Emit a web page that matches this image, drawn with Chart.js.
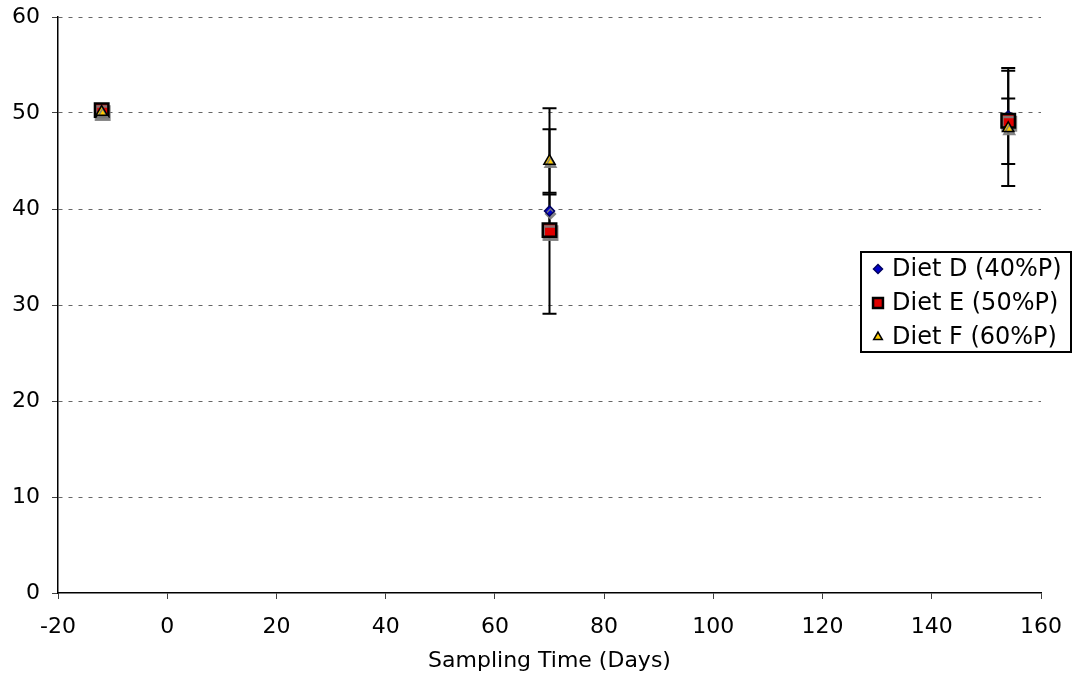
<!DOCTYPE html>
<html lang="en">
<head>
<meta charset="UTF-8">
<title>Sampling Time (Days)</title>
<script src="https://cdn.jsdelivr.net/npm/chart.js"></script>
<style>
  html, body { margin: 0; padding: 0; background: #fff; }
  #wrap { position: relative; width: 1073px; height: 677px; }
</style>
</head>
<body>
<div id="wrap"><canvas id="chart"></canvas></div>
<script>
// sampling days and mean values per diet
const days = [-12, 70, 154];
const dietD = [50.4, 39.8, 49.7];
const dietE = [50.3, 37.8, 49.2];
const dietF = [50.1, 45.0, 48.4];

// error bar lengths above / below each mean
const errDUp = [0, 10.7, 5.0];
const errDDown = [0, 10.7, 5.0];
const errEUp = [0, 3.7, 2.3];
const errEDown = [0, 0, 0];
const errFUp = [0, 3.3, 6.0];
const errFDown = [0, 3.3, 6.0];

const seriesNames = ["Diet D (40%P)", "Diet E (50%P)", "Diet F (60%P)"];
const xTicks = [-20, 0, 20, 40, 60, 80, 100, 120, 140, 160];
const yTicks = [0, 10, 20, 30, 40, 50, 60];

const errUp = [errDUp, errEUp, errFUp];
const errDown = [errDDown, errEDown, errFDown];

Chart.defaults.font.family = "'DejaVu Sans', Verdana, sans-serif";
Chart.defaults.font.size = 22;
Chart.defaults.color = "#000";

function points(vals) {
  return days.map((d, i) => ({ x: d, y: vals[i] }));
}

// error bars behind the markers, then a grey drop shadow for the markers
const errorBars = {
  id: "errorBars",
  beforeDatasetsDraw(chart) {
    const ctx = chart.ctx;
    const xs = chart.scales.x, ys = chart.scales.y;
    ctx.save();
    ctx.strokeStyle = "#000";
    ctx.lineWidth = 2;
    chart.data.datasets.forEach((ds, i) => {
      ds.data.forEach((p, j) => {
        const up = errUp[i][j], down = errDown[i][j];
        if (!up && !down) return;
        const x = xs.getPixelForValue(p.x);
        const y1 = ys.getPixelForValue(p.y + up);
        const y2 = ys.getPixelForValue(p.y - down);
        ctx.beginPath();
        ctx.moveTo(x, y1); ctx.lineTo(x, y2);
        if (up) { ctx.moveTo(x - 7, y1); ctx.lineTo(x + 7, y1); }
        if (down) { ctx.moveTo(x - 7, y2); ctx.lineTo(x + 7, y2); }
        ctx.stroke();
      });
    });
    ctx.restore();
    ctx.save();
    ctx.shadowColor = "rgba(125,125,125,0.9)";
    ctx.shadowOffsetX = 1;
    ctx.shadowOffsetY = 3;
    ctx.shadowBlur = 0;
  },
  afterDatasetsDraw(chart) {
    chart.ctx.restore();
  }
};

const boxLegend = {
  id: "boxLegend",
  afterDraw(chart) {
    const ctx = chart.ctx;
    ctx.save();
    ctx.fillStyle = "#fff";
    ctx.strokeStyle = "#000";
    ctx.lineWidth = 2;
    ctx.fillRect(861, 252, 210, 100);
    ctx.strokeRect(861, 252, 210, 100);
    const rows = [269, 303, 337];
    chart.data.datasets.forEach((ds, i) => {
      ctx.fillStyle = ds.pointBackgroundColor;
      ctx.strokeStyle = ds.pointBorderColor;
      ctx.lineWidth = ds.pointBorderWidth;
      const r = { rect: 7, rectRot: 4.5, triangle: 5 }[ds.pointStyle];
      Chart.helpers.drawPoint(ctx, {
        pointStyle: ds.pointStyle,
        radius: r,
        rotation: 0,
        borderWidth: ds.pointBorderWidth
      }, 878, rows[i]);
      ctx.fillStyle = "#000";
      ctx.font = "24px 'DejaVu Sans', Verdana, sans-serif";
      ctx.textBaseline = "middle";
      ctx.fillText(seriesNames[i], 892, rows[i] + 1);
    });
    ctx.restore();
  }
};

new Chart(document.getElementById("chart"), {
  type: "scatter",
  data: {
    datasets: [
      {
        label: seriesNames[0],
        data: points(dietD),
        pointStyle: "rectRot",
        pointRadius: 5,
        pointBackgroundColor: "#0000cc",
        pointBorderColor: "#000060",
        pointBorderWidth: 1.5,
        order: 2
      },
      {
        label: seriesNames[1],
        data: points(dietE),
        pointStyle: "rect",
        pointRadius: 9.5,
        pointBackgroundColor: "#e00000",
        pointBorderColor: "#000",
        pointBorderWidth: 2.5,
        order: 1
      },
      {
        label: seriesNames[2],
        data: points(dietF),
        pointStyle: "triangle",
        pointRadius: 6.5,
        pointBackgroundColor: "#ffcc00",
        pointBorderColor: "#000",
        pointBorderWidth: 1.5,
        order: 0
      }
    ]
  },
  options: {
    responsive: true,
    maintainAspectRatio: false,
    animation: false,
    clip: false,
    layout: { padding: { top: 17, right: 32, left: 0, bottom: 0 } },
    plugins: {
      legend: { display: false },
      tooltip: { enabled: false }
    },
    scales: {
      x: {
        type: "linear",
        min: -20,
        max: 160,
        afterBuildTicks: s => { s.ticks = xTicks.map(v => ({ value: v })); },
        afterFit: s => { s.height = 84; s.paddingLeft = 0; s.paddingRight = 0; },
        ticks: { padding: 15, maxRotation: 0 },
        grid: { drawOnChartArea: false, tickLength: 6, tickColor: "#404040", tickWidth: 1 },
        border: { color: "#000", width: 1.5 },
        title: { display: true, text: "Sampling Time (Days)", padding: { top: 0, bottom: 3 } }
      },
      y: {
        min: 0,
        max: 60,
        afterBuildTicks: s => { s.ticks = yTicks.map(v => ({ value: v })); },
        afterFit: s => { s.width = 58; s.paddingTop = 0; s.paddingBottom = 0; },
        ticks: { padding: 12 },
        grid: {
          color: c => c.tick && c.tick.value === 0 ? "rgba(0,0,0,0)" : "#666",
          lineWidth: 1,
          tickLength: 6,
          tickColor: "#404040",
          tickBorderDash: []
        },
        border: { color: "#000", width: 1.5, dash: [4, 6] }
      }
    }
  },
  plugins: [errorBars, boxLegend]
});
</script>
</body>
</html>
